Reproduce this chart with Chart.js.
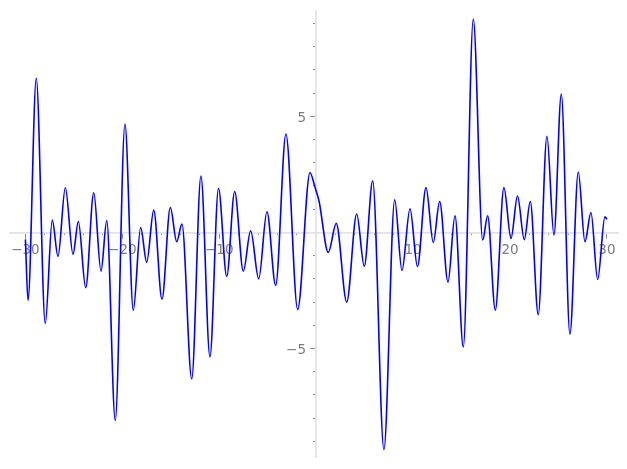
<!DOCTYPE html>
<html>
<head>
<meta charset="utf-8">
<script src="https://cdn.jsdelivr.net/npm/chart.js@4/dist/chart.umd.min.js"></script>
<style>
  html, body { margin: 0; padding: 0; background: #fff; }
  #wrap { width: 627px; height: 469px; position: relative; }
</style>
</head>
<body>
<div id="wrap"><canvas id="plot"></canvas></div>
<script>
// x positions of the curve's turning points
const xs = [-30.00, -29.73, -28.88, -27.95, -27.23, -26.64, -25.88, -25.09, -24.54, -23.78,
            -22.95, -22.20, -21.61, -20.73, -19.73, -18.87, -18.11, -17.49, -16.76, -15.91,
            -15.05, -14.39, -13.85, -12.84, -11.89, -10.96, -10.08, -9.23, -8.41, -7.52,
            -6.76, -5.93, -5.08, -4.18, -3.12, -1.91, -0.64, -0.12, 0.29, 1.25,
            2.07, 3.15, 4.18, 4.96, 5.83, 6.99, 8.10, 8.85, 9.68, 10.45,
            11.33, 12.08, 12.74, 13.60, 14.32, 15.18, 16.21, 17.18, 17.69, 18.48,
            19.37, 20.10, 20.77, 21.47, 22.09, 22.91, 23.81, 24.53, 25.29, 26.18,
            27.04, 27.73, 28.35, 29.04, 29.79, 30.00];
const ys = [-0.30, -2.93, 6.64, -3.92, 0.53, -1.03, 1.92, -0.94, 0.47, -2.38,
            1.71, -1.67, 0.51, -8.10, 4.67, -3.35, 0.21, -1.29, 0.96, -2.88,
            1.07, -0.40, 0.36, -6.31, 2.43, -5.36, 1.90, -1.90, 1.76, -1.67,
            0.07, -2.00, 0.89, -2.28, 4.24, -3.32, 2.57, 1.94, 1.36, -0.86,
            0.39, -3.00, 0.79, -1.46, 2.22, -9.35, 1.40, -1.64, 1.02, -1.47,
            1.93, -0.43, 1.33, -2.14, 0.72, -4.93, 9.19, -0.33, 0.72, -3.35,
            1.93, -0.26, 1.57, -0.31, 1.33, -3.54, 4.14, -0.11, 5.96, -4.38,
            2.60, -0.40, 0.86, -2.03, 0.67, 0.57];

const xMajor = [-30, -20, -10, 10, 20, 30];
const yMajor = [-5, 5];
const xMinor = [-28, -26, -24, -22, -18, -16, -14, -12, -8, -6, -4, -2,
                2, 4, 6, 8, 12, 14, 16, 18, 22, 24, 26, 28];
const yMinor = [-9, -8, -7, -6, -4, -3, -2, -1, 1, 2, 3, 4, 6, 7, 8, 9];

const xLim = [-31.59, 31.14];
const yLim = [-9.71, 9.53];

const fmt = v => (v < 0 ? '\u2212' + Math.abs(v) : String(v));
const setTicks = vals => scale => { scale.ticks = vals.map(v => ({ value: v })); };

const labelFont = { family: 'DejaVu Sans', size: 13.5 };
const tickGray = '#8a8a8a';
const textGray = '#7c7c7c';

new Chart(document.getElementById('plot'), {
    type: 'line',
    data: {
        datasets: [{
            data: xs.map((x, i) => ({ x: x, y: ys[i] })),
            borderColor: '#0000ff',
            borderWidth: 1.6,
            pointRadius: 0,
            fill: false,
            cubicInterpolationMode: 'monotone'
        }]
    },
    options: {
        responsive: true,
        maintainAspectRatio: false,
        animation: false,
        layout: { padding: { left: 10, right: 9, top: 9.3, bottom: 10.7 } },
        plugins: { legend: { display: false }, tooltip: { enabled: false } },
        scales: {
            x: {
                type: 'linear', min: xLim[0], max: xLim[1],
                position: { y: 0 },
                afterBuildTicks: setTicks(xMajor),
                border: { display: true, color: '#e2e2e2', width: 1.8 },
                grid: { drawOnChartArea: false, drawTicks: true, tickLength: 5, color: tickGray, lineWidth: 1 },
                ticks: { font: labelFont, color: textGray, padding: 4.5, maxRotation: 0, callback: fmt }
            },
            xm: {
                type: 'linear', axis: 'x', min: xLim[0], max: xLim[1],
                position: { y: 0 },
                afterBuildTicks: setTicks(xMinor),
                border: { display: false },
                grid: { drawOnChartArea: false, drawTicks: true, tickLength: 3, color: tickGray, lineWidth: 1 },
                ticks: { display: false }
            },
            y: {
                type: 'linear', min: yLim[0], max: yLim[1],
                position: { x: 0 },
                afterBuildTicks: setTicks(yMajor),
                border: { display: true, color: '#e2e2e2', width: 1.8 },
                grid: { drawOnChartArea: false, drawTicks: true, tickLength: 5, color: tickGray, lineWidth: 1 },
                ticks: { display: false }
            },
            ym: {
                type: 'linear', axis: 'y', min: yLim[0], max: yLim[1],
                position: { x: 0 },
                afterBuildTicks: setTicks(yMinor),
                border: { display: false },
                grid: { drawOnChartArea: false, drawTicks: true, tickLength: 3, color: tickGray, lineWidth: 1 },
                ticks: { display: false }
            },
            yl: {
                type: 'linear', axis: 'y', min: yLim[0], max: yLim[1],
                position: { x: -1.05 },
                afterBuildTicks: setTicks(yMajor),
                border: { display: false },
                grid: { display: false },
                ticks: { font: labelFont, color: textGray, labelOffset: 2, callback: fmt }
            }
        }
    }
});
</script>
</body>
</html>
